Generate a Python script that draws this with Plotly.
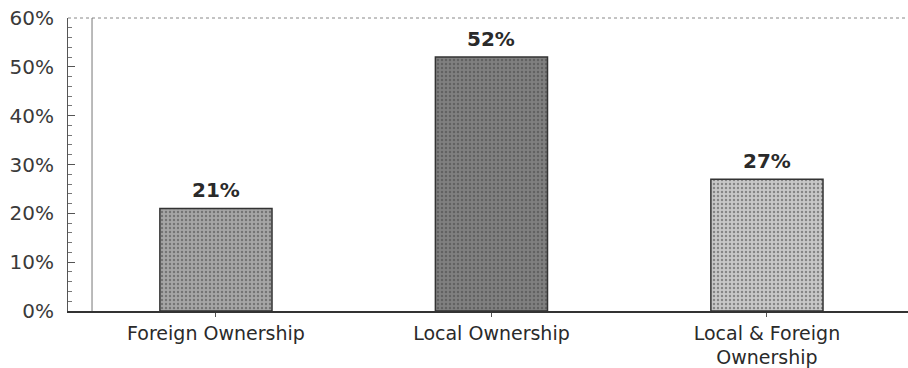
import plotly.graph_objects as go

categories = ["Foreign Ownership", "Local Ownership", "Local & Foreign<br>Ownership"]
values = [0.21, 0.52, 0.27]
bar_colors = ["#a6a6a6", "#808080", "#c8c8c8"]
pattern_colors = ["#858585", "#5c5c5c", "#a5a5a5"]
y_ticks = [0, 0.1, 0.2, 0.3, 0.4, 0.5, 0.6]
y_labels = ["0%", "10%", "20%", "30%", "40%", "50%", "60%"]

FONT = "DejaVu Sans, Verdana, sans-serif"

fig = go.Figure()
fig.add_trace(go.Bar(
    x=list(range(len(categories))),
    y=values,
    width=0.407,
    marker=dict(
        color=bar_colors,
        line=dict(color="#333333", width=1.5),
        pattern=dict(shape=".", fgcolor=pattern_colors, size=4, solidity=0.3),
    ),
    hoverinfo="skip",
))

for i, v in enumerate(values):
    fig.add_annotation(
        x=i, y=v, text=f"<b>{round(v*100)}%</b>", showarrow=False,
        yanchor="bottom", yshift=4,
        font=dict(family=FONT, size=20, color="#2a2a2a"),
    )

fig.update_layout(
    width=908, height=368,
    margin=dict(l=68, r=0, t=18, b=57),
    paper_bgcolor="white", plot_bgcolor="white",
    showlegend=False,
    font=dict(family=FONT, size=19, color="#222222"),
    xaxis=dict(
        range=[-0.537, 2.512],
        tickmode="array",
        tickvals=list(range(len(categories))),
        ticktext=categories,
        tickson="boundaries",
        ticks="outside", ticklen=4, tickcolor="#555555",
        showline=True, linecolor="#333333", linewidth=1.5,
        showgrid=False, zeroline=False,
        ticklabelstandoff=0,
        automargin=False,
        tickfont=dict(family=FONT, size=19, color="#2a2a2a"),
    ),
    yaxis=dict(
        range=[0, 0.6],
        tickmode="array", tickvals=y_ticks, ticktext=y_labels,
        ticks="inside", ticklen=7, tickcolor="#555555",
        minor=dict(ticks="inside", dtick=0.02, ticklen=4, tickcolor="#777777"),
        showline=True, linecolor="#555555", linewidth=1,
        showgrid=False, zeroline=False,
        ticklabelstandoff=9,
        automargin=False,
        tickfont=dict(family=FONT, size=20, color="#3a3a3a"),
    ),
)

# plot frame: dotted top border and inner vertical wall line
fig.add_shape(type="line", xref="paper", yref="paper", x0=0, x1=1, y0=1, y1=1,
              line=dict(color="#888888", width=1, dash="dot"))
fig.add_shape(type="line", xref="paper", yref="paper", x0=0.0286, x1=0.0286, y0=0, y1=1,
              line=dict(color="#777777", width=1))

fig.write_html("out.html")
